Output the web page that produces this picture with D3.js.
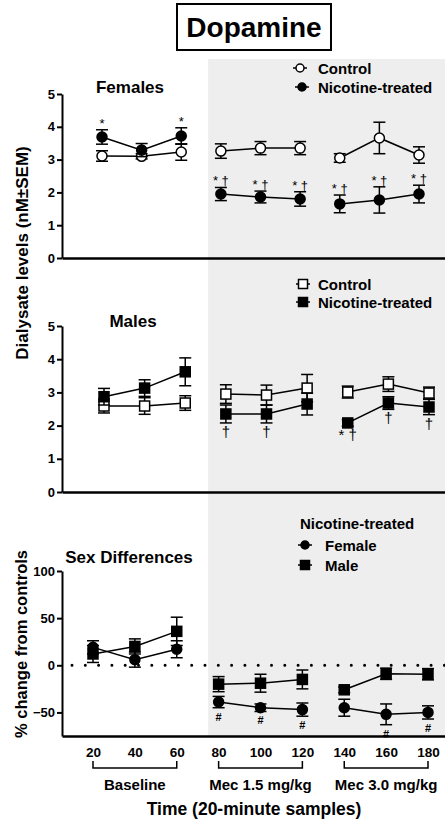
<!DOCTYPE html>
<html>
<head>
<meta charset="utf-8">
<script src="https://cdn.jsdelivr.net/npm/d3@7"></script>
<style>
  body { margin: 0; background: #fff; }
  svg { display: block; font-family: "Liberation Sans", Arial, sans-serif; }
</style>
</head>
<body>
<svg width="445" height="825"></svg>
<script>
// Time points (minutes) and the three phases of the experiment
var times = [20, 40, 60, 80, 100, 120, 140, 160, 180];
var groups = [[0, 1, 2], [3, 4, 5], [6, 7, 8]];
var phases = [
    { label: "Baseline", from: 20, to: 60 },
    { label: "Mec 1.5 mg/kg", from: 80, to: 120 },
    { label: "Mec 3.0 mg/kg", from: 140, to: 180 }
];

// Females, dialysate dopamine (nM +- SEM)
var femaleControl = [3.11, 3.10, 3.23, 3.26, 3.35, 3.35, 3.05, 3.66, 3.14];
var femaleControlSem = [0.16, 0.08, 0.25, 0.22, 0.2, 0.2, 0.13, 0.48, 0.25];
var femaleNicotine = [3.69, 3.29, 3.72, 1.95, 1.86, 1.80, 1.65, 1.77, 1.95];
var femaleNicotineSem = [0.22, 0.2, 0.25, 0.2, 0.18, 0.22, 0.27, 0.4, 0.27];
var femaleMarks = ["*", "", "*", "* †", "* †", "* †", "* †", "* †", "* †"];

// Males
var maleControl = [2.59, 2.59, 2.68, 2.95, 2.92, 3.13, 3.01, 3.25, 2.98];
var maleControlSem = [0.21, 0.25, 0.22, 0.28, 0.3, 0.41, 0.18, 0.22, 0.18];
var maleNicotine = [2.87, 3.13, 3.62, 2.35, 2.35, 2.65, 2.08, 2.68, 2.56];
var maleNicotineSem = [0.25, 0.25, 0.42, 0.27, 0.27, 0.33, 0.1, 0.19, 0.23];
var maleMarks = ["", "", "", "†", "†", "", "* †", "†", "†"];

// Sex differences, % change from controls
var diffFemale = [19, 6, 17, -39, -45, -47, -45, -52, -50];
var diffFemaleSem = [7, 8, 9, 6, 4, 7, 9, 11, 7];
var diffMale = [12, 20, 36, -20, -19, -15, -26, -9, -9.5];
var diffMaleSem = [9, 8, 15, 8, 9.5, 10, 3, 6, 6];
var diffMarks = ["", "", "", "#", "#", "#", "", "#", "#"];

var levelTicks = [0, 1, 2, 3, 4, 5];
var diffTicks = [-50, 0, 50, 100];

var svg = d3.select("svg");
var W = 445;
var axisX = 62;

// x scales (each panel is placed slightly differently in the figure)
function xFor(r0, r1) {
    var s = d3.scaleLinear().domain([20, 180]).range([r0, r1]);
    return s.copy().domain([s.invert(axisX), s.invert(W)]).range([axisX, W]);
}
var xTop = xFor(102, 419);
var xMid = xFor(104, 429);
var xBot = xFor(93, 428);

var yTop = d3.scaleLinear().domain([0, 5]).range([258, 94]);
var yMid = d3.scaleLinear().domain([0, 5]).range([492, 326]);
var yBot = d3.scaleLinear().domain([-75, 100]).range([736, 571]);

// grey background for the mecamylamine period
svg.append("rect")
    .attr("x", xBot(75))
    .attr("y", 59)
    .attr("width", W - xBot(75))
    .attr("height", yBot(-75) - 59)
    .attr("fill", "#eeeeee");

// title box
svg.append("rect")
    .attr("x", 177).attr("y", 4)
    .attr("width", 154).attr("height", 46)
    .attr("fill", "#fff").attr("stroke", "#000").attr("stroke-width", 2);
svg.append("text")
    .attr("x", 254).attr("y", 37)
    .attr("text-anchor", "middle")
    .attr("font-size", "28px").attr("font-weight", "bold")
    .text("Dopamine");

function drawAxes(x, y, ticks, showX) {
    var gy = svg.append("g")
        .attr("transform", "translate(" + axisX + ",0)")
        .call(d3.axisLeft(y).tickValues(ticks).tickFormat(d3.format("d"))
            .tickSize(5).tickSizeOuter(0).tickPadding(2));
    gy.select(".domain").attr("stroke-width", 2);
    gy.selectAll(".tick line").attr("stroke-width", 2);
    gy.selectAll(".tick text")
        .attr("font-size", "13px").attr("font-weight", "bold")
        .attr("font-family", "Liberation Sans, Arial, sans-serif");

    var gx = svg.append("g")
        .attr("transform", "translate(0," + y.range()[0] + ")")
        .call(d3.axisBottom(x).tickValues(showX ? times : []).tickFormat(d3.format("d"))
            .tickSize(0).tickSizeOuter(0).tickPadding(11));
    gx.select(".domain").attr("stroke-width", 2.5);
    gx.selectAll(".tick text")
        .attr("font-size", "13.5px").attr("font-weight", "bold")
        .attr("font-family", "Liberation Sans, Arial, sans-serif");
}

function symbol(g, shape, filled, cx, cy, size) {
    if (shape === "circle") {
        g.append("circle")
            .attr("cx", cx).attr("cy", cy).attr("r", size)
            .attr("fill", filled ? "#000" : "#fff")
            .attr("stroke", "#000").attr("stroke-width", 1.5);
    } else {
        g.append("rect")
            .attr("x", cx - size).attr("y", cy - size)
            .attr("width", size * 2).attr("height", size * 2)
            .attr("fill", filled ? "#000" : "#fff")
            .attr("stroke", "#000").attr("stroke-width", 1.5);
    }
}

function drawSeries(x, y, values, sems, shape, filled) {
    var g = svg.append("g");
    var line = d3.line()
        .x(function (i) { return x(times[i]); })
        .y(function (i) { return y(values[i]); });
    groups.forEach(function (grp) {
        g.append("path")
            .attr("d", line(grp))
            .attr("fill", "none").attr("stroke", "#000").attr("stroke-width", 1.5);
    });
    values.forEach(function (v, i) {
        var cx = x(times[i]);
        var hi = y(v + sems[i]), lo = y(v - sems[i]);
        g.append("line").attr("x1", cx).attr("x2", cx).attr("y1", hi).attr("y2", lo)
            .attr("stroke", "#000").attr("stroke-width", 1.5);
        [hi, lo].forEach(function (yy) {
            g.append("line").attr("x1", cx - 6).attr("x2", cx + 6).attr("y1", yy).attr("y2", yy)
                .attr("stroke", "#000").attr("stroke-width", 1.5);
        });
    });
    values.forEach(function (v, i) {
        symbol(g, shape, filled, x(times[i]), y(v), 5);
    });
}

function drawMarks(x, y, values, sems, marks, above, size, weight, offset) {
    svg.append("g").selectAll("text")
        .data(marks)
        .join("text")
        .attr("x", function (d, i) { return x(times[i]); })
        .attr("y", function (d, i) {
            return above ? y(values[i] + sems[i]) - offset : y(values[i] - sems[i]) + offset;
        })
        .attr("text-anchor", "middle")
        .attr("font-size", size + "px")
        .attr("font-weight", weight)
        .attr("fill", "#000")
        .text(function (d) { return d; });
}

function legendItem(cx, cy, shape, filled, label, textX) {
    var g = svg.append("g");
    g.append("line").attr("x1", cx - 7).attr("x2", cx + 7).attr("y1", cy).attr("y2", cy)
        .attr("stroke", "#000").attr("stroke-width", 1.5);
    symbol(g, shape, filled, cx, cy, shape === "circle" ? 4 : 4.5);
    g.append("text")
        .attr("x", textX).attr("y", cy + 5.5)
        .attr("font-size", "15px").attr("font-weight", "bold")
        .text(label);
}

function panelTitle(x, y, label) {
    svg.append("text")
        .attr("x", x).attr("y", y)
        .attr("text-anchor", "middle")
        .attr("font-size", "17px").attr("font-weight", "bold")
        .text(label);
}

// ---- Females panel
drawAxes(xTop, yTop, levelTicks, false);
panelTitle(130, 93, "Females");
drawSeries(xTop, yTop, femaleControl, femaleControlSem, "circle", false);
drawSeries(xTop, yTop, femaleNicotine, femaleNicotineSem, "circle", true);
drawMarks(xTop, yTop, femaleNicotine, femaleNicotineSem, femaleMarks, true, 13, "normal", 2);
legendItem(300, 68, "circle", false, "Control", 318);
legendItem(302, 87, "circle", true, "Nicotine-treated", 318);

// ---- Males panel
drawAxes(xMid, yMid, levelTicks, false);
panelTitle(133, 327, "Males");
drawSeries(xMid, yMid, maleControl, maleControlSem, "square", false);
drawSeries(xMid, yMid, maleNicotine, maleNicotineSem, "square", true);
drawMarks(xMid, yMid, maleNicotine, maleNicotineSem, maleMarks, false, 15, "normal", 14);
legendItem(303, 284, "square", false, "Control", 318);
legendItem(303, 302, "square", true, "Nicotine-treated", 318);

// ---- Sex differences panel
svg.append("line")
    .attr("x1", 72).attr("x2", W)
    .attr("y1", yBot(0)).attr("y2", yBot(0))
    .attr("stroke", "#000").attr("stroke-width", 3)
    .attr("stroke-linecap", "round")
    .attr("stroke-dasharray", "0,13.3");
drawAxes(xBot, yBot, diffTicks, true);
panelTitle(129, 563, "Sex Differences");
drawSeries(xBot, yBot, diffMale, diffMaleSem, "square", true);
drawSeries(xBot, yBot, diffFemale, diffFemaleSem, "circle", true);
drawMarks(xBot, yBot, diffFemale, diffFemaleSem, diffMarks, false, 11, "bold", 13);
svg.append("text")
    .attr("x", 300).attr("y", 528.5)
    .attr("font-size", "15px").attr("font-weight", "bold")
    .text("Nicotine-treated");
legendItem(305, 545, "circle", true, "Female", 325);
legendItem(305, 565, "square", true, "Male", 325);

// phase brackets under the x axis
var br = svg.append("g");
phases.forEach(function (p) {
    var x0 = xBot(p.from), x1 = xBot(p.to);
    br.append("path")
        .attr("d", "M" + x0 + ",761V768H" + x1 + "V761")
        .attr("fill", "none").attr("stroke", "#000").attr("stroke-width", 1.5);
    br.append("text")
        .attr("x", (x0 + x1) / 2).attr("y", 790)
        .attr("text-anchor", "middle")
        .attr("font-size", "15px").attr("font-weight", "bold")
        .text(p.label);
});

// axis titles
svg.append("text")
    .attr("x", 254).attr("y", 815)
    .attr("text-anchor", "middle")
    .attr("font-size", "17.5px").attr("font-weight", "bold")
    .text("Time (20-minute samples)");
svg.append("text")
    .attr("transform", "translate(28,253) rotate(-90)")
    .attr("text-anchor", "middle")
    .attr("font-size", "17px").attr("font-weight", "bold")
    .text("Dialysate levels (nM±SEM)");
svg.append("text")
    .attr("transform", "translate(27,644) rotate(-90)")
    .attr("text-anchor", "middle")
    .attr("font-size", "16.5px").attr("font-weight", "bold")
    .text("% change from controls");
</script>
</body>
</html>
